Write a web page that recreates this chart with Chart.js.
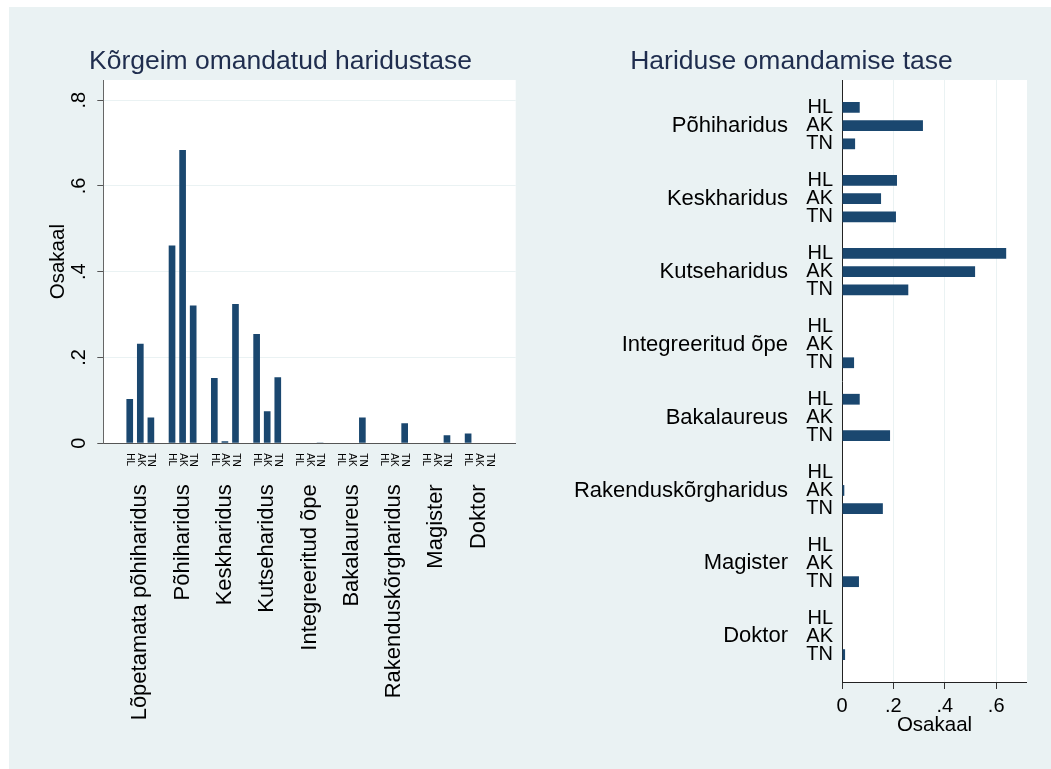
<!DOCTYPE html>
<html>
<head>
<meta charset="utf-8">
<script src="https://cdn.jsdelivr.net/npm/chart.js@4.4.1/dist/chart.umd.min.js"></script>
<style>
  body { margin: 0; background: #fff; }
  #wrap { position: relative; width: 1051px; height: 769px; overflow: hidden; }
  #bg { position: absolute; left: 9px; top: 7px; width: 1042px; height: 762px; background: #eaf2f3; }
  #c1 { position: absolute; left: 9px; top: 7px; }
  #c2 { position: absolute; left: 556px; top: 7px; }
</style>
</head>
<body>
<div id="wrap">
  <div id="bg"></div>
  <canvas id="c1" width="543" height="762"></canvas>
  <canvas id="c2" width="471" height="762"></canvas>
</div>
<script>
// sub categories inside every group
const subLabels = ["HL", "AK", "TN"];

// left: Kõrgeim omandatud haridustase
const leftGroups = ["Lõpetamata põhiharidus", "Põhiharidus", "Keskharidus", "Kutseharidus",
  "Integreeritud õpe", "Bakalaureus", "Rakenduskõrgharidus", "Magister", "Doktor"];
const leftHL = [0.103, 0.461, 0.152, 0.255, 0, 0, 0, 0, 0.023];
const leftAK = [0.232, 0.684, 0.005, 0.075, 0, 0, 0, 0, 0];
const leftTN = [0.060, 0.321, 0.325, 0.154, 0.002, 0.060, 0.047, 0.019, 0];
const leftTicks = [0, 0.2, 0.4, 0.6, 0.8];

// right: Hariduse omandamise tase
const rightGroups = ["Põhiharidus", "Keskharidus", "Kutseharidus", "Integreeritud õpe",
  "Bakalaureus", "Rakenduskõrgharidus", "Magister", "Doktor"];
const rightHL = [0.069, 0.214, 0.639, 0, 0.069, 0, 0, 0];
const rightAK = [0.315, 0.152, 0.518, 0, 0, 0.009, 0, 0];
const rightTN = [0.051, 0.210, 0.258, 0.047, 0.187, 0.159, 0.066, 0.012];
const rightTicks = [0, 0.2, 0.4, 0.6];

const FONT = '"Liberation Sans", Arial, sans-serif';
const BAR = "#1a476f";
const GRID = "#eaf2f3";
Chart.defaults.font.family = FONT;
Chart.defaults.color = "#000";

// build category slots: padding, groups of 3 with an empty slot between them
function slots(groups, pad) {
  const labels = [];
  const index = [];
  for (let p = 0; p < pad; p++) labels.push("");
  groups.forEach((g, gi) => {
    if (gi > 0) labels.push("");
    index.push(subLabels.map(s => { labels.push(s); return labels.length - 1; }));
  });
  for (let p = 0; p < pad; p++) labels.push("");
  return { labels, index };
}
function fill(layout, series) {
  const d = layout.labels.map(() => null);
  series.forEach((arr, s) => arr.forEach((v, g) => { d[layout.index[g][s]] = v; }));
  return d;
}
function fmt(v) {
  if (Math.abs(v) < 1e-9) return "0";
  return v.toFixed(1).replace(/^0/, "");
}

const plotBg = {
  id: "plotBg",
  beforeDraw(chart) {
    const a = chart.chartArea, ctx = chart.ctx;
    ctx.save();
    ctx.fillStyle = "#fff";
    ctx.fillRect(a.left, a.top, a.right - a.left, a.bottom - a.top);
    ctx.restore();
  }
};

const L = slots(leftGroups, 2);
const R = slots(rightGroups, 1);

const leftLabels = {
  id: "leftLabels",
  afterDraw(chart) {
    const ctx = chart.ctx, xs = chart.scales.x, bottom = chart.chartArea.bottom;
    ctx.save();
    ctx.fillStyle = "#000";
    L.index.forEach((idx, g) => {
      idx.forEach((i, s) => {
        ctx.save();
        ctx.translate(xs.getPixelForValue(i), bottom + 10);
        ctx.rotate(Math.PI / 2);
        ctx.font = "10px " + FONT;
        ctx.textAlign = "left";
        ctx.textBaseline = "middle";
        ctx.fillText(subLabels[s], 0, 0);
        ctx.restore();
      });
      ctx.save();
      ctx.translate(xs.getPixelForValue(idx[1]), bottom + 41);
      ctx.rotate(-Math.PI / 2);
      ctx.font = "22px " + FONT;
      ctx.textAlign = "right";
      ctx.textBaseline = "middle";
      ctx.fillText(leftGroups[g], 0, 0);
      ctx.restore();
    });
    ctx.restore();
  }
};

const rightLabels = {
  id: "rightLabels",
  afterDraw(chart) {
    const ctx = chart.ctx, ys = chart.scales.y, left = chart.chartArea.left;
    ctx.save();
    ctx.fillStyle = "#000";
    ctx.textAlign = "right";
    ctx.textBaseline = "middle";
    R.index.forEach((idx, g) => {
      ctx.font = "20px " + FONT;
      idx.forEach((i, s) => ctx.fillText(subLabels[s], left - 9, ys.getPixelForValue(i)));
      ctx.font = "22px " + FONT;
      ctx.fillText(rightGroups[g], left - 54, ys.getPixelForValue(idx[1]));
    });
    ctx.restore();
  }
};

new Chart(document.getElementById("c1"), {
  type: "bar",
  data: {
    labels: L.labels,
    datasets: [{
      data: fill(L, [leftHL, leftAK, leftTN]),
      backgroundColor: BAR,
      borderWidth: 0,
      categoryPercentage: 1,
      barPercentage: 0.63
    }]
  },
  options: {
    responsive: false,
    animation: false,
    layout: { padding: 0 },
    plugins: {
      legend: { display: false },
      tooltip: { enabled: false },
      title: {
        display: true,
        text: "Kõrgeim omandatud haridustase",
        color: "#1f2d4e",
        font: { size: 26.5, weight: "normal" },
        padding: { top: 39, bottom: 2.2 }
      }
    },
    scales: {
      x: {
        type: "category",
        offset: true,
        ticks: { display: false },
        grid: { display: false },
        border: { color: "#555" },
        afterFit: s => { s.height = 325.7; }
      },
      y: {
        min: 0,
        max: 0.847,
        afterBuildTicks: s => { s.ticks = leftTicks.map(v => ({ value: v })); },
        ticks: {
          callback: v => fmt(v),
          minRotation: 90,
          maxRotation: 90,
          crossAlign: "center",
          padding: 9,
          font: { size: 20 }
        },
        grid: { color: GRID, tickColor: "#555", tickLength: 6 },
        border: { color: "#666" },
        title: { display: true, text: "Osakaal", font: { size: 20.5 }, padding: { top: 37.2, bottom: 0 } },
        afterFit: s => { s.width = 94.3; }
      },
      // empty margin on the right so the title stays centred on the whole panel
      yPad: {
        position: "right",
        display: true,
        ticks: { display: false },
        grid: { display: false },
        border: { display: false },
        afterFit: s => { s.width = 36.3; }
      }
    }
  },
  plugins: [plotBg, leftLabels]
});

new Chart(document.getElementById("c2"), {
  type: "bar",
  data: {
    labels: R.labels,
    datasets: [{
      data: fill(R, [rightHL, rightAK, rightTN]),
      backgroundColor: BAR,
      borderWidth: 0,
      categoryPercentage: 1,
      barPercentage: 0.59
    }]
  },
  options: {
    indexAxis: "y",
    responsive: false,
    animation: false,
    layout: { padding: 0 },
    plugins: {
      legend: { display: false },
      tooltip: { enabled: false },
      title: {
        display: true,
        text: "Hariduse omandamise tase",
        color: "#1f2d4e",
        font: { size: 26.5, weight: "normal" },
        padding: { top: 39, bottom: 2.2 }
      }
    },
    scales: {
      y: {
        type: "category",
        offset: true,
        ticks: { display: false },
        grid: { display: false },
        border: { color: "#222" },
        afterFit: s => { s.width = 286; }
      },
      x: {
        min: 0,
        max: 0.72,
        afterBuildTicks: s => { s.ticks = rightTicks.map(v => ({ value: v })); },
        ticks: { callback: v => fmt(v), padding: 5, font: { size: 20 }, maxRotation: 0 },
        grid: { color: GRID, tickColor: "#333", tickLength: 7 },
        border: { color: "#222" },
        title: { display: true, text: "Osakaal", font: { size: 20.5 }, padding: { top: 0, bottom: 31 } },
        afterFit: s => { s.height = 87; }
      }
    }
  },
  plugins: [plotBg, rightLabels]
});
</script>
</body>
</html>
